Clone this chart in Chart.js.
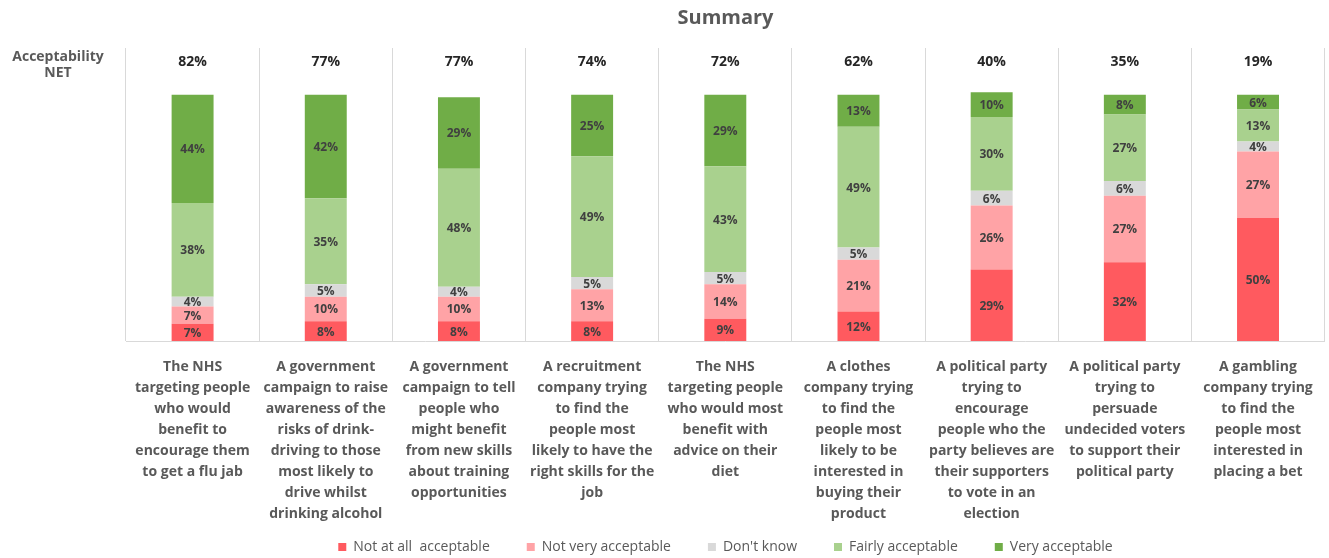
<!DOCTYPE html>
<html>
<head>
<meta charset="utf-8">
<script src="https://cdn.jsdelivr.net/npm/chart.js@4"></script>
<style>
  html, body { margin: 0; padding: 0; background: #fff; }
  #wrap { width: 1329px; height: 558px; position: relative; }
</style>
</head>
<body>
<div id="wrap"><canvas id="summaryChart"></canvas></div>
<script>
// DATA
const categories = [
  ["The NHS", "targeting people", "who would", "benefit to", "encourage them", "to get a flu jab"],
  ["A government", "campaign to raise", "awareness of the", "risks of drink-", "driving to those", "most likely to", "drive whilst", "drinking alcohol"],
  ["A government", "campaign to tell", "people who", "might benefit", "from new skills", "about training", "opportunities"],
  ["A recruitment", "company trying", "to find the", "people most", "likely to have the", "right skills for the", "job"],
  ["The NHS", "targeting people", "who would most", "benefit with", "advice on their", "diet"],
  ["A clothes", "company trying", "to find the", "people most", "likely to be", "interested in", "buying their", "product"],
  ["A political party", "trying to", "encourage", "people who the", "party believes are", "their supporters", "to vote in an", "election"],
  ["A political party", "trying to", "persuade", "undecided voters", "to support their", "political party"],
  ["A gambling", "company trying", "to find the", "people most", "interested in", "placing a bet"],
];
const notAtAll = [7, 8, 8, 8, 9, 12, 29, 32, 50];
const notVery = [7, 10, 10, 13, 14, 21, 26, 27, 27];
const dontKnow = [4, 5, 4, 5, 5, 5, 6, 6, 4];
const fairly = [38, 35, 48, 49, 43, 49, 30, 27, 13];
const very = [44, 42, 29, 25, 29, 13, 10, 8, 6];
const netValues = [82, 77, 77, 74, 72, 62, 40, 35, 19];

// COLORS
const red = "#FF5A5F";
const pink = "#FFA3A6";
const grey = "#D9D9D9";
const lightGreen = "#A9D18E";
const green = "#70AD47";
const textGrey = "#595959";
const font = '"Open Sans", "DejaVu Sans", sans-serif';

// value labels inside segments + NET row + left caption
const labelPlugin = {
  id: "segmentLabels",
  afterLayout(chart) {
    // let the wrapped category labels run into the empty top of the legend box
    chart.scales.x.bottom = chart.height;
  },
  afterDatasetsDraw(chart) {
    const ctx = chart.ctx;
    const area = chart.chartArea;
    ctx.save();
    ctx.textAlign = "center";
    ctx.textBaseline = "middle";
    ctx.font = "bold 12px " + font;
    ctx.fillStyle = "#404040";
    chart.data.datasets.forEach((ds, i) => {
      chart.getDatasetMeta(i).data.forEach((bar, j) => {
        const p = bar.getProps(["x", "y", "base"], true);
        ctx.fillText(ds.data[j] + "%", p.x, (p.y + p.base) / 2 + 1);
      });
    });

    const xs = chart.scales.x;
    ctx.font = "bold 14px " + font;
    ctx.fillStyle = "#262626";
    netValues.forEach((v, j) => {
      ctx.fillText(v + "%", xs.getPixelForValue(j), area.top + 14);
    });

    ctx.fillStyle = textGrey;
    ctx.fillText("Acceptability", 58, area.top + 9);
    ctx.fillText("NET", 58, area.top + 25);
    ctx.restore();
  },
};

const ctx = document.getElementById("summaryChart").getContext("2d");

new Chart(ctx, {
  type: "bar",
  data: {
    labels: categories,
    datasets: [
      { label: "Not at all  acceptable", data: notAtAll, backgroundColor: red },
      { label: "Not very acceptable", data: notVery, backgroundColor: pink },
      { label: "Don't know", data: dontKnow, backgroundColor: grey },
      { label: "Fairly acceptable", data: fairly, backgroundColor: lightGreen },
      { label: "Very acceptable", data: very, backgroundColor: green },
    ],
  },
  options: {
    responsive: true,
    maintainAspectRatio: false,
    animation: false,
    layout: { padding: { left: 126, right: 4, top: 0, bottom: -6 } },
    datasets: {
      bar: { barPercentage: 0.315, categoryPercentage: 1 },
    },
    scales: {
      x: {
        stacked: true,
        grid: { color: "#D9D9D9", drawTicks: false, offset: true },
        border: { color: "#D9D9D9" },
        ticks: {
          autoSkip: false,
          maxRotation: 0,
          padding: 16,
          color: textGrey,
          font: { family: font, size: 14, weight: "bold", lineHeight: 1.5 },
        },
        afterFit: (scale) => {
          scale.height = 162;
        },
      },
      y: {
        stacked: true,
        display: false,
        min: 0,
        max: 119,
      },
    },
    plugins: {
      title: {
        display: true,
        text: "Summary",
        color: textGrey,
        font: { family: font, size: 20, weight: "bold", lineHeight: 1.2 },
        padding: { top: 6, bottom: 18 },
      },
      legend: {
        position: "bottom",
        labels: {
          boxWidth: 8,
          boxHeight: 8,
          padding: 37,
          color: textGrey,
          font: { family: font, size: 14 },
        },
      },
      tooltip: { enabled: false },
    },
  },
  plugins: [labelPlugin],
});
</script>
</body>
</html>
